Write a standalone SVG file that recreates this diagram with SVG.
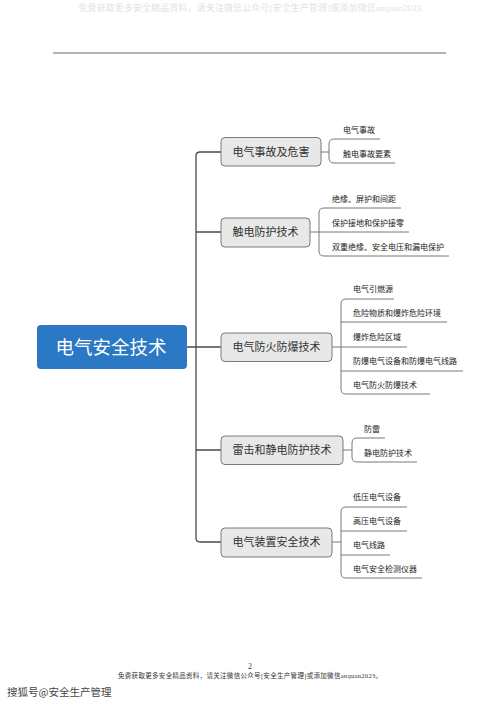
<svg xmlns="http://www.w3.org/2000/svg" width="500" height="701" viewBox="0 0 500 701">
<style>
.cjk{font-family:"Noto Sans CJK SC","Noto Sans",sans-serif}
.serif{font-family:"Liberation Serif","Noto Sans CJK SC",serif}
.l1 rect{fill:#e8e8e8;stroke:#7a7a7a;stroke-width:1}
.l1 text{font-size:11px;fill:#333;text-anchor:middle}
.l2{font-size:8px;fill:#222}
.trunk{fill:none;stroke:#4a4a4a;stroke-width:1.3}
.br{fill:none;stroke:#6a6a6a;stroke-width:0.9}
</style>
<rect width="500" height="701" fill="#fff"/>
<text class="serif" x="250" y="11" font-size="8.8" fill="#e2e2e2" text-anchor="middle" textLength="343">免费获取更多安全精品资料，请关注微信公众号[安全生产管理]或添加微信anquan2023</text>
<line x1="53" y1="53" x2="446" y2="53" stroke="#666" stroke-width="1"/>

<g id="connectors">
<path class="trunk" d="M187 347H221 M221 152H200Q196 152 196 156V538Q196 542 200 542H221 M196 232H221 M196 450H221"/>
<path class="br" d="M321 152H329 M380 139H334Q329 139 329 144V158Q329 163 334 163H395"/>
<path class="br" d="M310 232H409 M401 208H324Q319 208 319 213V251Q319 256 324 256H449"/>
<path class="br" d="M332 347H407 M394 299H346Q341 299 341 304V389Q341 394 346 394H430 M341 322H447 M341 371H463"/>
<path class="br" d="M343 450H352 M385 438H357Q352 438 352 443V457Q352 462 357 462H417"/>
<path class="br" d="M332 542H341 M407 507H346Q341 507 341 512V573Q341 578 346 578H422 M341 531H407 M341 555H390"/>
</g>

<g id="root"><rect x="37" y="325" width="150" height="44" rx="4" fill="#2b78c5"/><text class="cjk" x="111" y="353.5" font-size="18.5" fill="#fff" text-anchor="middle">电气安全技术</text></g>

<g id="n1" class="l1 cjk"><rect x="221" y="137.5" width="100" height="28.5" rx="4"/><text x="271" y="156">电气事故及危害</text></g>
<g id="n2" class="l1 cjk"><rect x="221" y="218" width="89" height="29" rx="4"/><text x="265.5" y="236">触电防护技术</text></g>
<g id="n3" class="l1 cjk"><rect x="221" y="333" width="111" height="28.5" rx="4"/><text x="276.5" y="351">电气防火防爆技术</text></g>
<g id="n4" class="l1 cjk"><rect x="221" y="436" width="122" height="28.5" rx="4"/><text x="282" y="454">雷击和静电防护技术</text></g>
<g id="n5" class="l1 cjk"><rect x="221" y="528" width="111" height="29" rx="4"/><text x="276.5" y="546">电气装置安全技术</text></g>

<g id="c1" class="cjk l2"><text x="343" y="133">电气事故</text><text x="343" y="157">触电事故要素</text></g>
<g id="c2" class="cjk l2"><text x="332" y="202">绝缘、屏护和间距</text><text x="332" y="226">保护接地和保护接零</text><text x="332" y="250">双重绝缘、安全电压和漏电保护</text></g>
<g id="c3" class="cjk l2"><text x="353" y="292">电气引燃源</text><text x="353" y="316">危险物质和爆炸危险环境</text><text x="353" y="340">爆炸危险区域</text><text x="353" y="364">防爆电气设备和防爆电气线路</text><text x="353" y="388">电气防火防爆技术</text></g>
<g id="c4" class="cjk l2"><text x="364" y="432">防雷</text><text x="364" y="456">静电防护技术</text></g>
<g id="c5" class="cjk l2"><text x="353" y="500">低压电气设备</text><text x="353" y="524">高压电气设备</text><text x="353" y="548">电气线路</text><text x="353" y="572">电气安全检测仪器</text></g>

<text class="serif" x="250" y="669" font-size="8" fill="#333" text-anchor="middle">2</text>
<text class="serif" x="250" y="678" font-size="6.5" fill="#333" text-anchor="middle" textLength="264">免费获取更多安全精品资料，请关注微信公众号[安全生产管理]或添加微信anquan2023。</text>
<text class="cjk" x="7" y="696" font-size="10.5" fill="#444">搜狐号@安全生产管理</text>
</svg>
